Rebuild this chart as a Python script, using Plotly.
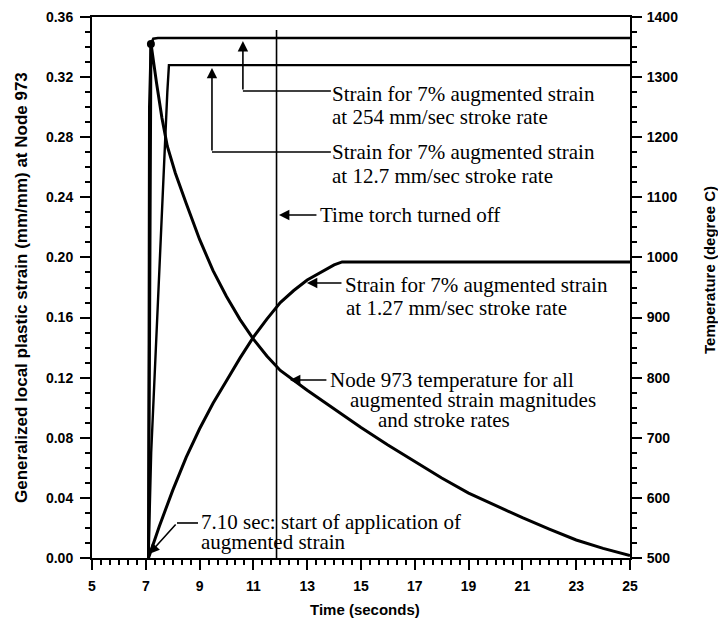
import plotly.graph_objects as go

# ---- data ----
time_254 = [7.10, 7.13, 7.19, 7.28, 7.45, 25.0]
strain_254 = [0.0, 0.300, 0.342, 0.3455, 0.346, 0.346]

time_12p7 = [7.10, 7.20, 7.45, 7.66, 7.80, 7.86, 25.0]
strain_12p7 = [0.0, 0.070, 0.170, 0.260, 0.310, 0.328, 0.328]

time_1p27 = [7.10, 7.50, 8.00, 8.50, 9.00, 9.50, 10.00, 10.50, 11.00, 11.50,
             12.00, 12.50, 13.00, 13.50, 14.00, 14.30, 25.0]
strain_1p27 = [0.0, 0.021, 0.045, 0.067, 0.086, 0.103, 0.118, 0.133, 0.147, 0.159,
               0.170, 0.178, 0.185, 0.190, 0.195, 0.197, 0.197]

time_temp = [7.10, 7.15, 7.19, 7.40, 7.60, 7.80, 8.10, 8.50, 9.00, 9.50, 10.00,
             10.50, 11.00, 11.50, 12.00, 13.00, 14.00, 15.00, 16.00, 17.00, 18.00,
             19.00, 20.00, 21.00, 22.00, 23.00, 24.00, 25.0]
temp_node973 = [500, 1150, 1357, 1290, 1232, 1185, 1140, 1090, 1030, 978, 935,
                897, 864, 836, 812, 779, 748, 717, 688, 660, 633,
                608, 587, 567, 548, 530, 516, 504]

torch_off_time = 11.86
x_ticks = [5, 7, 9, 11, 13, 15, 17, 19, 21, 23, 25]

BLACK = "#000000"
SERIF = "Liberation Serif, Times New Roman, serif"
SANS = "Liberation Sans, Arial, sans-serif"

# plot area on the page (the page body adds an 8px offset)
PL, PR, PT, PB = 92, 630, 17, 558
BODY = 8
FIG_W, FIG_H = 726 - BODY, 623 - BODY

fig = go.Figure()

fig.add_trace(go.Scatter(x=time_temp, y=temp_node973, mode="lines", yaxis="y2",
                         line=dict(color=BLACK, width=3), showlegend=False))
fig.add_trace(go.Scatter(x=time_254, y=strain_254, mode="lines",
                         line=dict(color=BLACK, width=2.6), showlegend=False))
fig.add_trace(go.Scatter(x=time_12p7, y=strain_12p7, mode="lines",
                         line=dict(color=BLACK, width=2.4), showlegend=False))
fig.add_trace(go.Scatter(x=time_1p27, y=strain_1p27, mode="lines",
                         line=dict(color=BLACK, width=3), showlegend=False))
fig.add_trace(go.Scatter(x=[time_254[2]], y=[strain_254[2]], mode="markers",
                         marker=dict(color=BLACK, size=8), showlegend=False))
# time torch turned off
fig.add_trace(go.Scatter(x=[torch_off_time, torch_off_time], y=[0, 0.3513], mode="lines",
                         line=dict(color=BLACK, width=1.6), showlegend=False))

shapes = []
def seg(x0, y0, x1, y1, w=1.6):
    shapes.append(dict(type="line", xref="x", yref="y", x0=x0, y0=y0, x1=x1, y1=y1,
                       line=dict(color=BLACK, width=w)))

# connector segments
seg(10.61, 0.3108, 13.88, 0.3108)
seg(9.46, 0.2702, 13.88, 0.2702)
seg(8.16, 0.0233, 8.94, 0.0233)

annotations = []
def arrow(xh, yh, xt, yt):
    annotations.append(dict(x=xh, y=yh, ax=xt, ay=yt, xref="x", yref="y",
                            axref="x", ayref="y", text="", showarrow=True,
                            arrowhead=2, arrowsize=1.3, arrowwidth=1.6,
                            arrowcolor=BLACK, standoff=0))

def label(x, y, txt, size=21):
    annotations.append(dict(x=x, y=y, xref="x", yref="y", text=txt, showarrow=False,
                            xanchor="left", yanchor="middle", borderpad=0,
                            font=dict(family=SERIF, size=size, color=BLACK)))

arrow(10.61, 0.3440, 10.61, 0.3108)
arrow(9.46, 0.3261, 9.46, 0.2702)
arrow(11.95, 0.2282, 13.40, 0.2282)
arrow(12.99, 0.1830, 14.33, 0.1830)
arrow(12.36, 0.1184, 13.77, 0.1184)
arrow(7.12, 0.0027, 8.16, 0.0233)

label(13.90, 0.3088, "Strain for 7% augmented strain")
label(13.90, 0.2935, "at 254 mm/sec stroke rate")
label(13.90, 0.2702, "Strain for 7% augmented strain")
label(13.90, 0.2542, "at 12.7 mm/sec stroke rate")
label(13.42, 0.2282, "Time torch turned off")
label(14.35, 0.1817, "Strain for 7% augmented strain")
label(14.39, 0.1664, "at 1.27 mm/sec stroke rate")
label(13.82, 0.1184, "Node 973 temperature for all")
label(14.57, 0.1051, "augmented strain magnitudes")
label(15.61, 0.0918, "and stroke rates")
label(9.02, 0.0240, "7.10 sec: start of application of")
label(9.02, 0.0106, "augmented strain")

def px(xp):
    return (xp - PL) / (PR - PL)

def py(yp):
    return (PB - yp) / (PB - PT)

# axis titles
annotations.append(dict(xref="paper", yref="paper", x=px(21), y=py(288),
                        text="Generalized local plastic strain (mm/mm) at Node 973",
                        textangle=-90, showarrow=False, xanchor="center", yanchor="middle",
                        font=dict(family=SANS, size=17, color=BLACK, weight="bold")))
annotations.append(dict(xref="paper", yref="paper", x=px(709), y=py(270),
                        text="Temperature (degree C)",
                        textangle=-90, showarrow=False, xanchor="center", yanchor="middle",
                        font=dict(family=SANS, size=15, color=BLACK, weight="bold")))
annotations.append(dict(xref="paper", yref="paper", x=px(365), y=py(610),
                        text="Time (seconds)", showarrow=False, xanchor="center", yanchor="middle",
                        font=dict(family=SANS, size=15, color=BLACK, weight="bold")))

tickfont = dict(family=SANS, size=14, color=BLACK, weight="bold")

fig.update_layout(
    width=FIG_W, height=FIG_H,
    margin=dict(l=PL - BODY, r=FIG_W - (PR - BODY), t=PT - BODY, b=FIG_H - (PB - BODY),
                autoexpand=False),
    paper_bgcolor="white", plot_bgcolor="white",
    showlegend=False,
    shapes=shapes, annotations=annotations,
    xaxis=dict(range=[5, 25], tickvals=x_ticks, ticks="outside", ticklen=10, tickwidth=2,
               tickcolor=BLACK, showline=True, linecolor=BLACK, linewidth=2, mirror=True,
               showgrid=False, zeroline=False, tickfont=tickfont, ticklabelstandoff=4,
               ticklabeloverflow="allow",
               minor=dict(ticks="outside", ticklen=5, tickwidth=1.5, tickcolor=BLACK,
                          tick0=5, dtick=2 / 6, showgrid=False)),
    yaxis=dict(range=[0, 0.36], dtick=0.04, tick0=0, tickformat=".2f", ticks="outside",
               ticklen=10, tickwidth=2, tickcolor=BLACK, showline=True, linecolor=BLACK,
               linewidth=2, showgrid=False, zeroline=False, tickfont=tickfont,
               ticklabelstandoff=4, ticklabeloverflow="allow",
               minor=dict(ticks="outside", ticklen=5, tickwidth=1.5, tickcolor=BLACK,
                          dtick=0.01, showgrid=False)),
    yaxis2=dict(range=[500, 1400], dtick=100, tick0=500, overlaying="y", side="right",
                ticks="outside", ticklen=10, tickwidth=2, tickcolor=BLACK, showline=True,
                linecolor=BLACK, linewidth=2, showgrid=False, zeroline=False,
                tickfont=tickfont, ticklabelstandoff=2, ticklabeloverflow="allow",
                minor=dict(ticks="outside", ticklen=5, tickwidth=1.5, tickcolor=BLACK,
                           dtick=25, showgrid=False)),
)

fig.write_html("out.html")
